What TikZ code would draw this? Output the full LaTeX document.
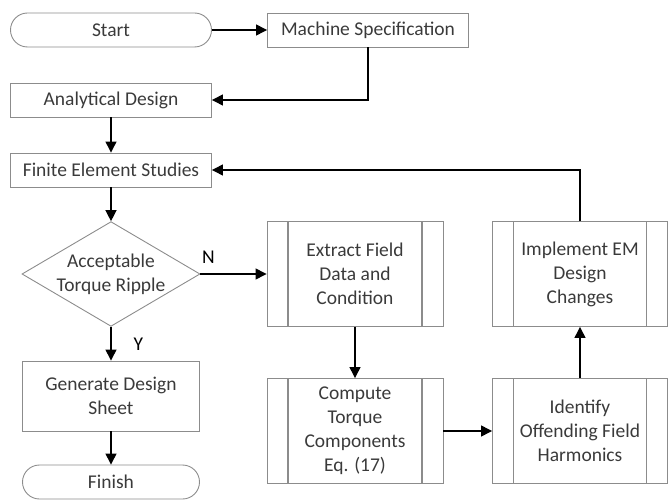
\documentclass[tikz,border=0pt]{standalone}
\usepackage{fontspec}
\setmainfont{Carlito}
\usetikzlibrary{positioning, shapes.geometric, arrows.meta}

\definecolor{linegray}{HTML}{8C8C8C}
\definecolor{textgray}{HTML}{3A3A3A}

\tikzset{
  box/.style={draw=linegray, line width=0.9pt, rectangle, text=textgray, align=center,
    minimum width=201pt, minimum height=34pt, inner sep=0pt,
    font=\fontsize{19.5}{24}\selectfont},
  term/.style={box, rounded corners=17pt},
  decide/.style={box, diamond, aspect=1.7, minimum width=176pt, minimum height=104pt},
  proc/.style={box, minimum width=176pt, minimum height=105pt,
    path picture={
      \draw[linegray, line width=1.2pt]
        ([xshift=21pt]path picture bounding box.north west) -- ([xshift=21pt]path picture bounding box.south west)
        ([xshift=-21pt]path picture bounding box.north east) -- ([xshift=-21pt]path picture bounding box.south east);
    }},
  flow/.style={-{Triangle[length=11pt,width=11pt]}, line width=1.3pt}
}

\begin{document}
\begin{tikzpicture}[on grid, font=\fontsize{19.5}{24}\selectfont]

\node[term] (start) {Start};
\node[box] (spec) [right=257pt of start] {Machine Specification};
\node[box] (analytic) [below=70pt of start] {Analytical Design};
\node[box] (fes) [below=70pt of analytic] {Finite Element Studies};
\node[decide] (ripple) [below=104pt of fes] {Acceptable\\Torque Ripple};
\node[box, minimum width=177pt, minimum height=70pt] (sheet) [below=122pt of ripple] {Generate Design\\Sheet};
\node[term, minimum width=177pt] (finish) [below=86pt of sheet] {Finish};
\node[proc] (extract) [right=244pt of ripple] {Extract Field\\Data and\\Condition};
\node[proc] (compute) [below=157pt of extract] {Compute\\Torque\\Components\\Eq. (17)};
\node[proc, minimum width=175pt] (identify) [right=225pt of compute] {Identify\\Offending Field\\Harmonics};
\node[proc, minimum width=175pt] (implement) [above=157pt of identify] {Implement EM\\Design\\Changes};

\useasboundingbox ([xshift=-111pt, yshift=30pt]start.center) rectangle ([xshift=557pt, yshift=-469pt]start.center);

\draw[flow] (start) -- (spec);
\draw[flow] (spec.south) |- (analytic.east);
\draw[flow] (analytic) -- (fes);
\draw[flow] (fes) -- (ripple);
\draw[flow] (ripple.east) -- node[pos=0, anchor=south west, inner sep=0pt, xshift=1pt, yshift=10pt] {N} (extract.west);
\draw[flow] (ripple.south) -- node[midway, anchor=west, inner sep=0pt, xshift=22pt, yshift=-1pt] {Y} (sheet.north);
\draw[flow] (sheet) -- (finish);
\draw[flow] (extract) -- (compute);
\draw[flow] (compute) -- (identify);
\draw[flow] (identify) -- (implement);
\draw[flow] (implement.north) |- (fes.east);

\end{tikzpicture}
\end{document}
